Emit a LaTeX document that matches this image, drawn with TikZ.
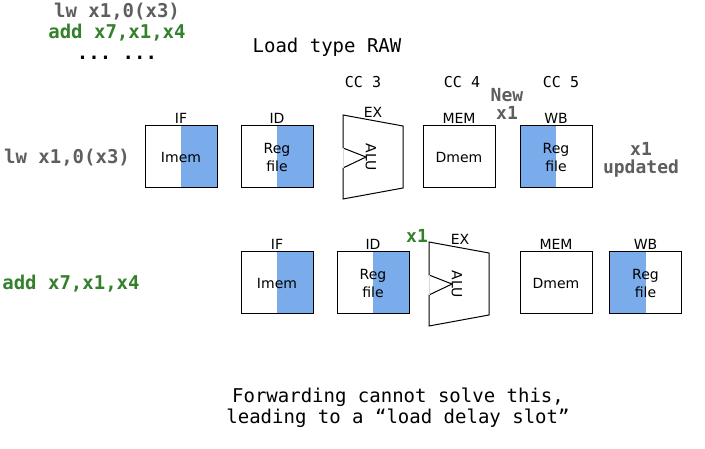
\documentclass[tikz,border=0pt]{standalone}
\usepackage{fontspec}
\setsansfont{DejaVu Sans}
\setmonofont{DejaVu Sans Mono}
\usetikzlibrary{positioning}
\definecolor{stageblue}{RGB}{122,172,236}
\definecolor{codegray}{RGB}{94,94,94}
\definecolor{codegreen}{RGB}{52,128,44}
\newcommand{\CodeFont}{\fontsize{19}{21}\selectfont\ttfamily}
\newcommand{\NoteFont}{\fontsize{18}{18}\selectfont\ttfamily\bfseries}
\newcommand{\CycleFont}{\fontsize{15}{18}\selectfont\ttfamily}
\newcommand{\StageFont}{\fontsize{14}{18}\selectfont\sffamily}
\tikzset{
  stage/.style={draw, line width=1pt, minimum width=72pt, minimum height=62pt, inner sep=0pt, align=center, font=\StageFont},
  rightblue/.style={path picture={\fill[stageblue] (path picture bounding box.north) rectangle (path picture bounding box.south east);}},
  leftblue/.style={path picture={\fill[stageblue] (path picture bounding box.north west) rectangle (path picture bounding box.south);}},
  steplabel/.style={font=\StageFont, inner sep=1pt},
  cycle/.style={font=\CycleFont, anchor=base, inner sep=0pt},
  note/.style={font=\NoteFont, text=codegray, align=center, inner sep=0pt},
  instr/.style={font=\CodeFont\bfseries, anchor=base, inner sep=0pt},
  pics/alu/.style={code={
    \draw[line width=1pt] (0,0) -- (60,11) -- (60,73) -- (0,84) -- (0,53) -- (23,42) -- (0,33) -- cycle;
    \draw[black!15] (0,33) -- (0,53);
    \node[rotate=-90, font=\StageFont, inner sep=0pt] (-txt) at (28,42) {ALU};
  }}
}

\begin{document}
\begin{tikzpicture}[x=1pt, y=-1pt]
  \useasboundingbox (0,0) rectangle (705,449);
  % program and title (base = last line)
  \node[font=\CodeFont\bfseries, align=center, anchor=base, inner sep=0pt] (prog) at (117,60)
    {\textcolor{codegray}{lw x1,0(x3)}\\\textcolor{codegreen}{add x7,x1,x4}\\... ...};
  \node[font=\CodeFont, anchor=base, inner sep=0pt] (title) at (327,53) {Load type RAW};
  \node[cycle] (cc3) at (363,88) {CC 3};
  \node[cycle] (cc4) at (462,88) {CC 4};
  \node[cycle] (cc5) at (561,88) {CC 5};
  \node[note, anchor=base] (newx) at (507,120) {New\\x1};

  % lw x1,0(x3)
  \node[instr, text=codegray] (lw) at (67,164) {lw x1,0(x3)};
  \node[stage, rightblue] (if1) at (181,157) {Imem};
  \node[stage, rightblue] (id1) at (277,157) {Reg\\file};
  \pic (alu1) at (343,115) {alu};
  \node[stage] (mem1) at (459,157) {Dmem};
  \node[stage, leftblue] (wb1) at (556,157) {Reg\\file};
  \node[steplabel, above=1pt of if1] (if1l) {IF};
  \node[steplabel, above=1pt of id1] (id1l) {ID};
  \node[steplabel, anchor=base] (ex1l) at (373,118) {EX};
  \node[steplabel, above=1pt of mem1] (mem1l) {MEM};
  \node[steplabel, above=1pt of wb1] (wb1l) {WB};
  \node[note, anchor=base] (upd) at (641,174) {x1\\updated};

  % add x7,x1,x4
  \node[instr, text=codegreen] (add) at (71,290) {add x7,x1,x4};
  \node[stage, rightblue] (if2) at (277,283) {Imem};
  \node[stage, rightblue] (id2) at (373,283) {Reg\\file};
  \pic (alu2) at (429,242) {alu};
  \node[stage] (mem2) at (556,283) {Dmem};
  \node[stage, leftblue] (wb2) at (645.5,283) {Reg\\file};
  \node[steplabel, above=1pt of if2] (if2l) {IF};
  \node[steplabel, above=1pt of id2] (id2l) {ID};
  \node[steplabel, anchor=base] (ex2l) at (460,245) {EX};
  \node[steplabel, above=1pt of mem2] (mem2l) {MEM};
  \node[steplabel, above=1pt of wb2] (wb2l) {WB};
  \node[note, text=codegreen, anchor=base] (x1in) at (417,243) {x1};

  % bottom remark
  \node[font=\CodeFont, align=center, anchor=base, inner sep=0pt] (remark) at (398,424)
    {Forwarding cannot solve this,\\leading to a “load delay slot”};
\end{tikzpicture}
\end{document}
